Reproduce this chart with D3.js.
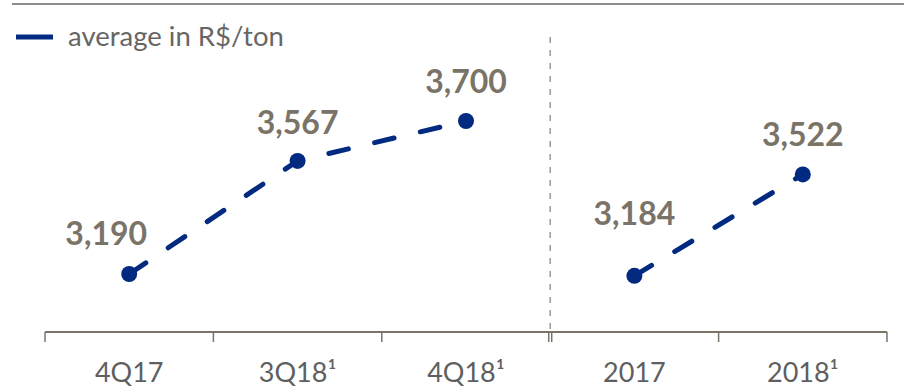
<!DOCTYPE html>
<html>
<head>
<meta charset="utf-8">
<script src="https://cdn.jsdelivr.net/npm/d3@7"></script>
<style>
  body { margin: 0; background: #fff; }
  text { font-family: Lato, "Open Sans", sans-serif; }
</style>
</head>
<body>
<div id="chart"></div>
<script>
// chart data
var categories = ["4Q17", "3Q18¹", "4Q18¹", "2017", "2018¹"];
var prices = [3190, 3567, 3700, 3184, 3522];
var priceLabels = ["3,190", "3,567", "3,700", "3,184", "3,522"];
var quarterIdx = [0, 1, 2];
var yearIdx = [3, 4];
var legendLabel = "average in R$/ton";

// label nudges (px) so text sits like the original
var labelNudge = [[-23, -29], [0, -27], [0, -28], [0, -51], [0, -28]];

var width = 904, height = 388;
var navy = "#012a80";
var warmGray = "#7a7368";

var svg = d3.select("#chart").append("svg")
  .attr("width", width)
  .attr("height", height);

var x = d3.scaleBand().domain(categories).range([45, 887]).paddingInner(0).paddingOuter(0);
var y = d3.scaleLinear().domain([3000, 4000]).range([331, 31]);
var axisY = 332;

// top rule
svg.append("line")
  .attr("x1", 12).attr("x2", width)
  .attr("y1", 4).attr("y2", 4)
  .style("stroke", "#8c8c8c")
  .style("stroke-width", 2);

// legend
svg.append("line")
  .attr("x1", 16).attr("x2", 53)
  .attr("y1", 37).attr("y2", 37)
  .style("stroke", navy)
  .style("stroke-width", 5);
svg.append("text")
  .attr("x", 68).attr("y", 46)
  .style("font-size", "27.5px")
  .style("fill", "#666")
  .text(legendLabel);

// separator between quarters and years
var sepX = x(categories[3]);
svg.append("line")
  .attr("x1", sepX).attr("x2", sepX)
  .attr("y1", 37).attr("y2", axisY)
  .style("stroke", "#999")
  .style("stroke-width", 1.5)
  .style("stroke-dasharray", "6,7");

// x axis
var xAxis = d3.axisBottom(x).tickSize(0).tickPadding(0).tickFormat(function(d) { return d; });
var gx = svg.append("g")
  .attr("transform", "translate(0," + axisY + ")")
  .call(xAxis);
gx.select(".domain")
  .attr("d", "M45,0H887")
  .style("stroke", warmGray)
  .style("stroke-width", 2);
gx.selectAll(".tick text")
  .attr("y", 50)
  .attr("dy", 0)
  .style("font-size", "27px")
  .style("font-family", "Lato, sans-serif")
  .style("fill", "#5f5f5f");

// category boundary ticks
var bounds = categories.map(function(d) { return x(d); }).concat([x.range()[1]]);
bounds.forEach(function(b, i) {
  var offs = (i === 3) ? [-1.5, 1.5] : [0];
  offs.forEach(function(o) {
    svg.append("line")
      .attr("x1", b + o).attr("x2", b + o)
      .attr("y1", axisY).attr("y2", axisY + 10)
      .style("stroke", warmGray)
      .style("stroke-width", 1.5);
  });
});

// dashed lines
var line = d3.line()
  .x(function(i) { return x(categories[i]) + x.bandwidth() / 2; })
  .y(function(i) { return y(prices[i]); });

[quarterIdx, yearIdx].forEach(function(idx) {
  svg.append("path")
    .attr("d", line(idx))
    .style("fill", "none")
    .style("stroke", navy)
    .style("stroke-width", 5)
    .style("stroke-linecap", "round")
    .style("stroke-dasharray", "20,27");
});

// markers
svg.selectAll(".dot")
  .data(prices)
  .enter().append("circle")
  .attr("class", "dot")
  .attr("cx", function(d, i) { return x(categories[i]) + x.bandwidth() / 2; })
  .attr("cy", function(d) { return y(d); })
  .attr("r", 8)
  .style("fill", navy);

// value labels
svg.selectAll(".val")
  .data(prices)
  .enter().append("text")
  .attr("class", "val")
  .attr("x", function(d, i) { return x(categories[i]) + x.bandwidth() / 2 + labelNudge[i][0]; })
  .attr("y", function(d, i) { return y(d) + labelNudge[i][1]; })
  .attr("text-anchor", "middle")
  .style("font-size", "32px")
  .style("font-weight", "bold")
  .style("fill", warmGray)
  .text(function(d, i) { return priceLabels[i]; });
</script>
</body>
</html>
